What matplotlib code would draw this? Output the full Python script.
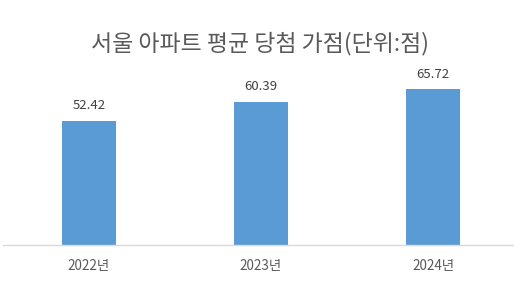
import matplotlib
matplotlib.use("Agg")
import matplotlib.pyplot as plt

plt.rcParams['font.family'] = ['Noto Sans CJK KR', 'DejaVu Sans']

categories = ["2022년", "2023년", "2024년"]
values = [52.42, 60.39, 65.72]
value_labels = ["52.42", "60.39", "65.72"]
title = "서울 아파트 평균 당첨 가점(단위:점)"

fig = plt.figure(figsize=(5.14, 2.81), dpi=100)
ax = fig.add_axes([3/514, (281-245)/281, 511/514, 166/281])

x = list(range(len(categories)))
ax.bar(x, values, width=0.31, color="#5B9BD5", zorder=2)
ax.set_xlim(-0.5, 2.471)
ax.set_ylim(0, 70)

for xi, v, lab in zip(x, values, value_labels):
    ax.annotate(lab, (xi, v), xytext=(0, 6), textcoords="offset points",
                ha="center", va="bottom", fontsize=9.5, color="#404040")

ax.set_xticks(x)
ax.set_xticklabels(categories, fontsize=9.7, color="#595959")
ax.tick_params(axis='x', length=0, pad=10)
ax.set_yticks([])
for s in ["top", "right", "left"]:
    ax.spines[s].set_visible(False)
ax.spines["bottom"].set_color("#D9D9D9")
ax.spines["bottom"].set_linewidth(1)

fig.text(260/514, 1 - 44/281, title, ha="center", va="center",
         fontsize=16.5, color="#595959")

fig.savefig("out.png", dpi=100, facecolor="white")
